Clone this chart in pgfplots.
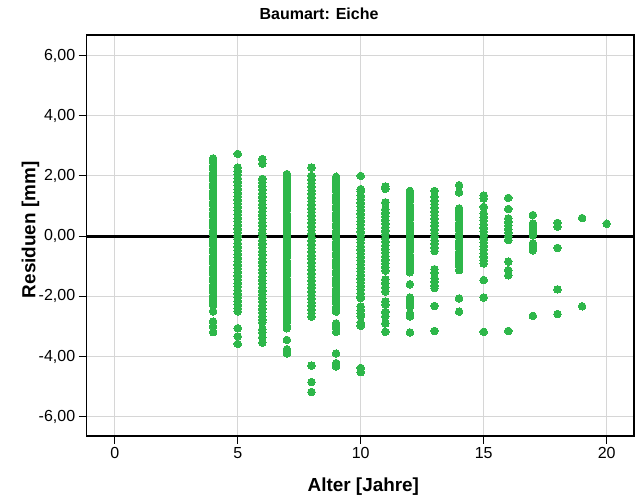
\documentclass[border=0pt]{standalone}
\usepackage{fontspec}
\setmainfont{Liberation Sans}
\usepackage{pgfplots}
\pgfplotsset{compat=1.18}
\definecolor{ptc}{RGB}{46,183,74}
\definecolor{gridc}{RGB}{214,214,214}
\begin{document}
\begin{tikzpicture}
\begin{axis}[
  scale only axis, width=547.3pt, height=401pt,
  xmin=-1.14, xmax=21.11, ymin=-6.64, ymax=6.68,
  xtick={0,5,10,15,20}, ytick={-6,-4,-2,0,2,4,6},
  tick pos=left, tick align=outside, major tick length=8pt,
  every tick/.style={black, line width=1pt},
  grid=major, major grid style={gridc, line width=0.9pt},
  axis line style={black, line width=1.2pt},
  /pgf/number format/assume math mode=true,
  yticklabel style={/pgf/number format/.cd, fixed, fixed zerofill, precision=2, use comma},
  tick label style={font=\fontsize{16}{19}\selectfont},
  title={Baumart: Eiche},
  title style={font=\bfseries\fontsize{16}{19}\selectfont, at={(0.42454,1.02329)}, anchor=base, inner sep=0pt},
  xlabel={Alter [Jahre]},
  xlabel style={font=\bfseries\fontsize{18.9}{22}\selectfont, at={(0.5055,-0.1386)}, anchor=base, inner sep=0pt},
  ylabel={Residuen [mm]},
  ylabel style={font=\bfseries\fontsize{18.9}{22}\selectfont, at={(-0.09355,0.5143)}, anchor=base, inner sep=0pt},
]
\addplot[only marks, mark=*, mark size=3.8pt, mark options={fill=ptc, draw=ptc, line width=0pt}] coordinates {
(4,2.58)(4,2.46)(4,2.34)(4,2.22)(4,2.10)(4,1.98)(4,1.86)(4,1.74)(4,1.62)(4,1.50)(4,1.38)(4,1.26)(4,1.14)(4,1.02)(4,0.90)(4,0.78)(4,0.66)(4,0.54)(4,0.42)(4,0.30)(4,0.18)(4,0.06)(4,-0.06)(4,-0.18)(4,-0.30)(4,-0.42)(4,-0.54)(4,-0.66)(4,-0.78)(4,-0.90)(4,-1.02)(4,-1.14)(4,-1.26)(4,-1.38)(4,-1.50)(4,-1.62)(4,-1.74)(4,-1.86)(4,-1.98)(4,-2.08)(4,-2.20)(4,-2.30)(4,-2.50)(4,-2.84)(4,-3.00)(4,-3.19)
(5,2.73)(5,2.28)(5,2.16)(5,2.04)(5,1.92)(5,1.80)(5,1.68)(5,1.56)(5,1.44)(5,1.32)(5,1.20)(5,1.08)(5,0.96)(5,0.84)(5,0.72)(5,0.60)(5,0.48)(5,0.36)(5,0.24)(5,0.12)(5,0.00)(5,-0.12)(5,-0.24)(5,-0.36)(5,-0.48)(5,-0.60)(5,-0.72)(5,-0.84)(5,-0.96)(5,-1.08)(5,-1.20)(5,-1.32)(5,-1.44)(5,-1.56)(5,-1.68)(5,-1.80)(5,-1.92)(5,-2.04)(5,-2.16)(5,-2.28)(5,-2.40)(5,-2.50)(5,-3.06)(5,-3.33)(5,-3.58)
(6,2.56)(6,2.41)(6,1.90)(6,1.78)(6,1.66)(6,1.54)(6,1.42)(6,1.30)(6,1.18)(6,1.06)(6,0.94)(6,0.82)(6,0.70)(6,0.58)(6,0.46)(6,0.34)(6,0.22)(6,0.10)(6,-0.02)(6,-0.14)(6,-0.26)(6,-0.38)(6,-0.50)(6,-0.62)(6,-0.74)(6,-0.86)(6,-0.98)(6,-1.10)(6,-1.22)(6,-1.34)(6,-1.46)(6,-1.58)(6,-1.70)(6,-1.82)(6,-1.94)(6,-2.06)(6,-2.18)(6,-2.30)(6,-2.42)(6,-2.54)(6,-2.66)(6,-2.78)(6,-2.86)(6,-3.10)(6,-3.20)(6,-3.36)(6,-3.54)
(7,2.06)(7,1.94)(7,1.82)(7,1.70)(7,1.58)(7,1.46)(7,1.34)(7,1.22)(7,1.10)(7,0.98)(7,0.86)(7,0.74)(7,0.62)(7,0.50)(7,0.38)(7,0.26)(7,0.14)(7,0.02)(7,-0.10)(7,-0.22)(7,-0.34)(7,-0.46)(7,-0.58)(7,-0.70)(7,-0.82)(7,-0.94)(7,-1.06)(7,-1.18)(7,-1.30)(7,-1.42)(7,-1.54)(7,-1.66)(7,-1.78)(7,-1.90)(7,-2.02)(7,-2.14)(7,-2.26)(7,-2.38)(7,-2.50)(7,-2.62)(7,-2.74)(7,-2.86)(7,-2.98)(7,-3.06)(7,-3.45)(7,-3.76)(7,-3.90)
(8,2.28)(8,2.00)(8,1.88)(8,1.76)(8,1.64)(8,1.52)(8,1.40)(8,1.28)(8,1.16)(8,1.04)(8,0.92)(8,0.80)(8,0.68)(8,0.56)(8,0.44)(8,0.32)(8,0.20)(8,0.08)(8,-0.04)(8,-0.16)(8,-0.28)(8,-0.40)(8,-0.52)(8,-0.64)(8,-0.76)(8,-0.88)(8,-1.00)(8,-1.12)(8,-1.24)(8,-1.36)(8,-1.48)(8,-1.60)(8,-1.72)(8,-1.84)(8,-1.96)(8,-2.08)(8,-2.20)(8,-2.32)(8,-2.44)(8,-2.56)(8,-2.68)(8,-4.30)(8,-4.85)(8,-5.18)
(9,1.97)(9,1.85)(9,1.73)(9,1.61)(9,1.49)(9,1.37)(9,1.25)(9,1.13)(9,1.01)(9,0.89)(9,0.77)(9,0.65)(9,0.53)(9,0.41)(9,0.29)(9,0.17)(9,0.05)(9,-0.07)(9,-0.19)(9,-0.31)(9,-0.43)(9,-0.55)(9,-0.67)(9,-0.79)(9,-0.91)(9,-1.03)(9,-1.15)(9,-1.27)(9,-1.39)(9,-1.51)(9,-1.63)(9,-1.75)(9,-1.87)(9,-1.99)(9,-2.11)(9,-2.23)(9,-2.35)(9,-2.45)(9,-2.51)(9,-2.90)(9,-3.04)(9,-3.18)(9,-3.90)(9,-4.22)(9,-4.33)
(10,2.00)(10,1.56)(10,1.48)(10,1.34)(10,1.22)(10,1.10)(10,0.98)(10,0.86)(10,0.74)(10,0.62)(10,0.50)(10,0.38)(10,0.26)(10,0.14)(10,0.02)(10,-0.10)(10,-0.22)(10,-0.34)(10,-0.46)(10,-0.58)(10,-0.70)(10,-0.82)(10,-0.94)(10,-1.06)(10,-1.18)(10,-1.30)(10,-1.42)(10,-1.54)(10,-1.66)(10,-1.78)(10,-1.90)(10,-2.02)(10,-2.06)(10,-2.34)(10,-2.46)(10,-2.58)(10,-2.66)(10,-2.88)(10,-2.98)(10,-4.38)(10,-4.52)
(11,1.65)(11,1.57)(11,1.12)(11,0.89)(11,0.77)(11,0.65)(11,0.53)(11,0.41)(11,0.29)(11,0.17)(11,0.05)(11,-0.07)(11,-0.19)(11,-0.31)(11,-0.43)(11,-0.55)(11,-0.67)(11,-0.79)(11,-0.91)(11,-1.03)(11,-1.15)(11,-1.44)(11,-1.56)(11,-1.70)(11,-1.84)(11,-2.17)(11,-2.28)(11,-2.52)(11,-2.66)(11,-2.90)(11,-3.18)
(12,1.50)(12,1.40)(12,1.28)(12,1.16)(12,1.04)(12,0.92)(12,0.80)(12,0.68)(12,0.56)(12,0.44)(12,0.32)(12,0.20)(12,0.08)(12,-0.04)(12,-0.16)(12,-0.28)(12,-0.39)(12,-0.50)(12,-0.62)(12,-0.74)(12,-0.86)(12,-0.98)(12,-1.10)(12,-1.20)(12,-1.60)(12,-2.04)(12,-2.14)(12,-2.26)(12,-2.35)(12,-2.57)(12,-2.67)(12,-3.20)
(13,1.50)(13,1.30)(13,1.18)(13,1.06)(13,0.94)(13,0.82)(13,0.70)(13,0.58)(13,0.46)(13,0.34)(13,0.22)(13,0.10)(13,-0.02)(13,-0.14)(13,-0.26)(13,-0.38)(13,-0.50)(13,-1.10)(13,-1.22)(13,-1.40)(13,-1.52)(13,-1.64)(13,-1.73)(13,-2.32)(13,-3.15)
(14,1.69)(14,1.45)(14,0.92)(14,0.80)(14,0.68)(14,0.56)(14,0.44)(14,0.32)(14,0.20)(14,0.08)(14,-0.04)(14,-0.16)(14,-0.28)(14,-0.40)(14,-0.52)(14,-0.64)(14,-0.76)(14,-0.88)(14,-1.00)(14,-1.13)(14,-2.07)(14,-2.51)
(15,1.35)(15,1.25)(15,0.97)(15,0.75)(15,0.63)(15,0.51)(15,0.39)(15,0.27)(15,0.15)(15,0.03)(15,-0.09)(15,-0.21)(15,-0.33)(15,-0.45)(15,-0.57)(15,-0.69)(15,-0.81)(15,-0.91)(15,-1.46)(15,-2.04)(15,-3.18)
(16,1.27)(16,0.90)(16,0.59)(16,0.47)(16,0.35)(16,0.23)(16,0.11)(16,-0.01)(16,-0.13)(16,-0.85)(16,-1.13)(16,-1.30)(16,-3.15)
(17,0.70)(17,0.42)(17,0.30)(17,0.18)(17,0.06)(17,0.03)(17,-0.24)(17,-0.36)(17,-0.47)(17,-2.65)
(18,0.44)(18,0.31)(18,-0.39)(18,-1.77)(18,-2.59)
(19,0.60)(19,-2.33)
(20,0.41)
};
\addplot[black, line width=3pt, forget plot] coordinates {(-1.14,0) (21.11,0)};
\end{axis}
\pgfresetboundingbox
\path (-86.7pt,-59pt) rectangle (551.3pt,436pt);
\end{tikzpicture}
\end{document}
